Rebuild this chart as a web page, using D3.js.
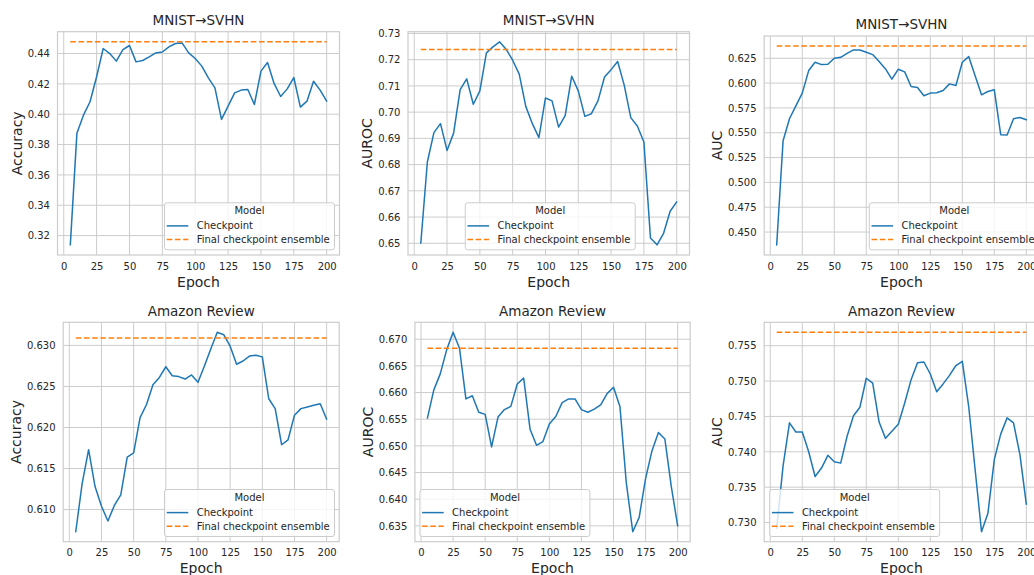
<!DOCTYPE html>
<html>
<head>
<meta charset="utf-8">
<script src="https://cdn.jsdelivr.net/npm/d3@7"></script>
<style>
  html, body { margin: 0; padding: 0; background: #fff; }
  svg { display: block; font-family: "DejaVu Sans", sans-serif; }
</style>
</head>
<body>
<svg id="chart" width="1034" height="575"></svg>
<script>
// ---------------- DATA ----------------
const epochs = [5,10,15,20,25,30,35,40,45,50,55,60,65,70,75,80,85,90,95,100,
                105,110,115,120,125,130,135,140,145,150,155,160,165,170,175,180,185,190,195,200];

const mnistAccuracy = [0.3139,0.3874,0.3994,0.4082,0.4247,0.4433,0.4400,0.4350,0.4426,0.4453,
                       0.4345,0.4354,0.4378,0.4404,0.4410,0.4444,0.4466,0.4470,0.4404,0.4367,
                       0.4317,0.4240,0.4174,0.3966,0.4053,0.4141,0.4159,0.4163,0.4064,0.4284,
                       0.4341,0.4203,0.4117,0.4167,0.4242,0.4047,0.4086,0.4217,0.4159,0.4086];
const mnistAccuracyEnsemble = 0.4477;

const mnistAuroc = [0.6500,0.6810,0.6922,0.6956,0.6854,0.6920,0.7086,0.7127,0.7030,0.7081,
                    0.7226,0.7249,0.7268,0.7240,0.7198,0.7145,0.7022,0.6956,0.6903,0.7054,
                    0.7043,0.6943,0.6987,0.7137,0.7081,0.6984,0.6994,0.7043,0.7134,0.7162,
                    0.7193,0.7103,0.6979,0.6947,0.6886,0.6520,0.6494,0.6538,0.6622,0.6658];
const mnistAurocEnsemble = 0.7239;

const mnistAuc = [0.4369,0.5420,0.5641,0.5771,0.5899,0.6126,0.6210,0.6186,0.6190,0.6250,
                  0.6260,0.6300,0.6334,0.6334,0.6310,0.6287,0.6217,0.6143,0.6039,0.6140,
                  0.6113,0.5966,0.5955,0.5872,0.5899,0.5902,0.5925,0.5992,0.5976,0.6210,
                  0.6267,0.6073,0.5882,0.5915,0.5932,0.5480,0.5477,0.5641,0.5654,0.5631];
const mnistAucEnsemble = 0.6374;

const amazonAccuracy = [0.6073,0.6132,0.6173,0.6128,0.6104,0.6086,0.6105,0.6118,0.6164,0.6169,
                        0.6212,0.6228,0.6252,0.6261,0.6274,0.6263,0.6262,0.6259,0.6264,0.6255,
                        0.6275,0.6296,0.6316,0.6313,0.6299,0.6277,0.6281,0.6287,0.6288,0.6286,
                        0.6235,0.6223,0.6179,0.6185,0.6215,0.6223,0.6225,0.6227,0.6229,0.6210];
const amazonAccuracyEnsemble = 0.6309;

const amazonAuroc = [0.6552,0.6605,0.6635,0.6680,0.6713,0.6683,0.6588,0.6594,0.6563,0.6559,
                     0.6498,0.6554,0.6568,0.6574,0.6616,0.6627,0.6531,0.6501,0.6508,0.6541,
                     0.6555,0.6581,0.6588,0.6588,0.6568,0.6563,0.6569,0.6577,0.6598,0.6610,
                     0.6574,0.6430,0.6339,0.6366,0.6439,0.6491,0.6525,0.6513,0.6424,0.6350];
const amazonAurocEnsemble = 0.6683;

const amazonAuc = [0.7292,0.7380,0.7441,0.7428,0.7428,0.7400,0.7365,0.7377,0.7395,0.7386,
                   0.7384,0.7422,0.7451,0.7463,0.7504,0.7497,0.7442,0.7419,0.7429,0.7439,
                   0.7469,0.7502,0.7526,0.7527,0.7510,0.7485,0.7496,0.7508,0.7522,0.7528,
                   0.7464,0.7375,0.7287,0.7313,0.7389,0.7425,0.7448,0.7441,0.7396,0.7326];
const amazonAucEnsemble = 0.7569;

const xTicks = [0,25,50,75,100,125,150,175,200];
const yTicksMnistAccuracy = [0.32,0.34,0.36,0.38,0.40,0.42,0.44];
const yTicksMnistAuroc = [0.65,0.66,0.67,0.68,0.69,0.70,0.71,0.72,0.73];
const yTicksMnistAuc = [0.450,0.475,0.500,0.525,0.550,0.575,0.600,0.625];
const yTicksAmazonAccuracy = [0.610,0.615,0.620,0.625,0.630];
const yTicksAmazonAuroc = [0.635,0.640,0.645,0.650,0.655,0.660,0.665,0.670];
const yTicksAmazonAuc = [0.730,0.735,0.740,0.745,0.750,0.755];

const titles = ["MNIST→SVHN","MNIST→SVHN","MNIST→SVHN","Amazon Review","Amazon Review","Amazon Review"];
const yLabels = ["Accuracy","AUROC","AUC","Accuracy","AUROC","AUC"];
const legendTitle = "Model";
const seriesNames = ["Checkpoint","Final checkpoint ensemble"];

// ---------------- LAYOUT ----------------
const panels = [
  {values: mnistAccuracy, ens: mnistAccuracyEnsemble, yTicks: yTicksMnistAccuracy, fmt: ".2f",
   box: {l: 57.5, r: 339.5, t: 31.7, b: 255}, legend: "lower right", legendGap: 5.5},
  {values: mnistAuroc, ens: mnistAurocEnsemble, yTicks: yTicksMnistAuroc, fmt: ".2f",
   box: {l: 408, r: 689.5, t: 31.7, b: 255}, legend: "lower center", legendGap: 5.5},
  {values: mnistAuc, ens: mnistAucEnsemble, yTicks: yTicksMnistAuc, fmt: ".3f",
   box: {l: 764.2, r: 1038.8, t: 36, b: 255}, legend: "lower right", legendGap: 0},
  {values: amazonAccuracy, ens: amazonAccuracyEnsemble, yTicks: yTicksAmazonAccuracy, fmt: ".3f",
   box: {l: 63.2, r: 339.2, t: 322.3, b: 541.7}, legend: "lower right", legendGap: 5.2},
  {values: amazonAuroc, ens: amazonAurocEnsemble, yTicks: yTicksAmazonAuroc, fmt: ".3f",
   box: {l: 414.9, r: 690.2, t: 322.3, b: 541.7}, legend: "lower left", legendGap: 4.5},
  {values: amazonAuc, ens: amazonAucEnsemble, yTicks: yTicksAmazonAuc, fmt: ".3f",
   box: {l: 764.2, r: 1038.8, t: 322.3, b: 541.7}, legend: "lower left", legendGap: 5}
];

const BLUE = "#1f77b4", ORANGE = "#ff7f0e", GRID = "#cccccc", TEXT = "#262626";
const svg = d3.select("#chart");

function pad(ext) {
  const span = ext[1] - ext[0];
  return [ext[0] - 0.05 * span, ext[1] + 0.05 * span];
}

panels.forEach((p, i) => {
  const {l, r, t, b} = p.box;
  const x = d3.scaleLinear().domain(pad(d3.extent(epochs))).range([l, r]);
  const yExt = d3.extent(p.values.concat([p.ens]));
  const y = d3.scaleLinear().domain(pad(yExt)).range([b, t]);
  const g = svg.append("g");

  // grid
  g.append("g").selectAll("line").data(xTicks).join("line")
    .attr("x1", d => x(d)).attr("x2", d => x(d)).attr("y1", t).attr("y2", b)
    .attr("stroke", GRID).attr("stroke-width", 1);
  g.append("g").selectAll("line").data(p.yTicks).join("line")
    .attr("x1", l).attr("x2", r).attr("y1", d => y(d)).attr("y2", d => y(d))
    .attr("stroke", GRID).attr("stroke-width", 1);

  // spines
  g.append("rect").attr("x", l).attr("y", t).attr("width", r - l).attr("height", b - t)
    .attr("fill", "none").attr("stroke", GRID).attr("stroke-width", 1.2);

  // axes (tick labels only) through d3 axes
  const xAxis = d3.axisBottom(x).tickValues(xTicks).tickSize(0).tickPadding(7.5).tickFormat(d3.format("d"));
  const xg = g.append("g").attr("transform", `translate(0,${b})`).call(xAxis);
  const yAxis = d3.axisLeft(y).tickValues(p.yTicks).tickSize(0).tickPadding(7.6).tickFormat(d3.format(p.fmt));
  const yg = g.append("g").attr("transform", `translate(${l},0)`).call(yAxis);
  [xg, yg].forEach(ax => {
    ax.select(".domain").remove();
    ax.selectAll("text").attr("fill", TEXT).style("font-size", "10px")
      .style("font-family", "DejaVu Sans, sans-serif");
  });

  // lines
  const line = d3.line().x((d, k) => x(epochs[k])).y(d => y(d));
  g.append("path").datum(p.values).attr("d", line)
    .attr("fill", "none").attr("stroke", BLUE).attr("stroke-width", 1.5)
    .attr("stroke-linejoin", "round").attr("stroke-linecap", "round");
  const ensData = epochs.map(() => p.ens);
  g.append("path").datum(ensData).attr("d", line)
    .attr("fill", "none").attr("stroke", ORANGE).attr("stroke-width", 1.5)
    .attr("stroke-dasharray", "5.6,2.6");

  // title
  g.append("text").attr("x", (l + r) / 2).attr("y", t - 6.8)
    .attr("text-anchor", "middle").attr("fill", TEXT)
    .style("font-size", "13.5px").text(titles[i]);

  // x label
  g.append("text").attr("x", (l + r) / 2).attr("y", b + 31.5)
    .attr("text-anchor", "middle").attr("fill", TEXT)
    .style("font-size", "14px").text("Epoch");

  // y label, positioned from tick label extents
  let minX = Infinity;
  yg.selectAll("text").each(function() {
    const bb = this.getBBox();
    const m = this.getCTM();
    minX = Math.min(minX, bb.x + m.e);
  });
  const cy = (t + b) / 2;
  const lx = minX - 11;
  g.append("text").attr("transform", `translate(${lx},${cy}) rotate(-90)`)
    .attr("text-anchor", "middle").attr("dominant-baseline", "central").attr("fill", TEXT)
    .style("font-size", "14px").text(yLabels[i]);

  // legend
  const LW = 170, LH = 47;
  let lgx;
  if (p.legend === "lower right") lgx = r - p.legendGap - LW;
  else if (p.legend === "lower center") lgx = (l + r) / 2 - LW / 2 + 1;
  else lgx = l + p.legendGap;
  const lgy = b - 5.7 - LH;
  const lg = g.append("g").attr("transform", `translate(${lgx},${lgy})`);
  lg.append("rect").attr("x", 0.5).attr("y", 0.5).attr("width", LW).attr("height", LH)
    .attr("rx", 2.5).attr("fill", "#ffffff").attr("fill-opacity", 0.8)
    .attr("stroke", GRID).attr("stroke-width", 1);
  lg.append("text").attr("x", LW / 2 + 0.5).attr("y", 8.2).attr("text-anchor", "middle")
    .attr("dominant-baseline", "central").attr("fill", TEXT).style("font-size", "10px").text(legendTitle);
  const items = [{c: BLUE, dash: null, yy: 23.6}, {c: ORANGE, dash: "5.6,2.6", yy: 37.2}];
  items.forEach((it, k) => {
    const ln = lg.append("line").attr("x1", 2.7).attr("x2", 24.3).attr("y1", it.yy).attr("y2", it.yy)
      .attr("stroke", it.c).attr("stroke-width", 1.5);
    if (it.dash) ln.attr("stroke-dasharray", it.dash);
    lg.append("text").attr("x", 32.7).attr("y", it.yy).attr("dominant-baseline", "central")
      .attr("fill", TEXT).style("font-size", "10px").text(seriesNames[k]);
  });
});
</script>
</body>
</html>
